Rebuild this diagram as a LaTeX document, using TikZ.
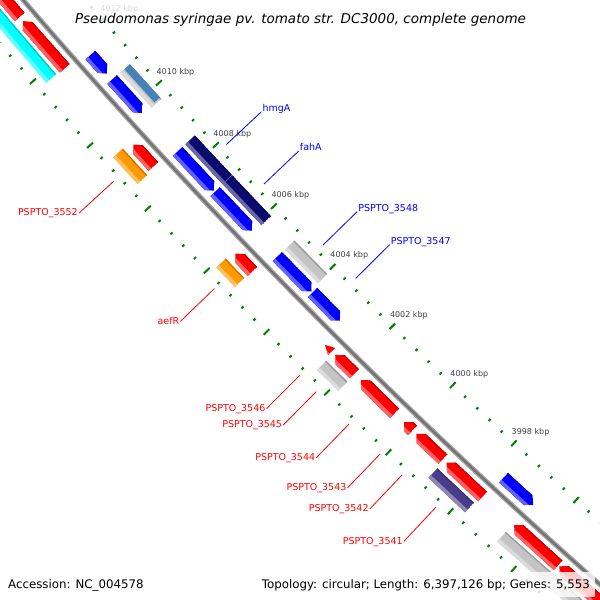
\documentclass[tikz,border=0pt]{standalone}
\usepackage{fontspec}
\setmainfont{DejaVu Sans}
\definecolor{cgred}{RGB}{255,0,0}
\definecolor{cgblue}{RGB}{0,0,255}
\definecolor{cgnavy}{RGB}{12,12,112}
\definecolor{cgsteel}{RGB}{70,130,180}
\definecolor{cgsilver}{RGB}{196,196,196}
\definecolor{cgcyan}{RGB}{0,255,255}
\definecolor{cgslate}{RGB}{72,61,139}
\definecolor{cgorange}{RGB}{255,153,0}
\definecolor{cgtick}{RGB}{0,128,0}
\definecolor{cgtext}{RGB}{64,64,64}
% one feature on the map: #1 upper-left angle, #2 lower-right angle, #3 inner radius,
% #4 colour, #5 0 box / 1 tip up-left / 2 tip down-right / 3 bare head
\newcommand{\gfeat}[5]{%
  \pgfmathsetmacro\fro{#3+13}\pgfmathsetmacro\frm{#3+6.5}%
  \pgfmathsetmacro\frl{#3+9.5}\pgfmathsetmacro\frd{#3+1.5}%
  \pgfmathsetmacro\frx{#3+15}\pgfmathsetmacro\fri{#3-2}%
  \pgfmathsetmacro\fah{#1-0.065}\pgfmathsetmacro\fbh{#2+0.065}%
  \pgfmathsetmacro\fax{#1+0.1}\pgfmathsetmacro\fbx{#2-0.1}%
  \ifcase#5
    \def\fshape{(#1:#3) -- (#2:#3) -- (#2:\fro) -- (#1:\fro) -- cycle}%
  \or
    \def\fshape{(#1:\frm) -- (\fah:#3) -- (#2:#3) -- (#2:\fro) -- (\fah:\fro) -- cycle}%
  \or
    \def\fshape{(#1:#3) -- (\fbh:#3) -- (#2:\frm) -- (\fbh:\fro) -- (#1:\fro) -- cycle}%
  \else
    \pgfmathsetmacro\frp{#3+1.5}\pgfmathsetmacro\frq{#3+11.5}%
    \def\fshape{(#1:\frm) -- (#2:\frp) -- (#2:\frq) -- cycle}%
  \fi
  \begin{scope}
    \clip \fshape;
    \fill[#4] \fshape;
    \fill[#4!62!white] (\fax:\frl) -- (\fbx:\frl) -- (\fbx:\frx) -- (\fax:\frx) -- cycle;
    \fill[#4!80!black] (\fax:\fri) -- (\fbx:\fri) -- (\fbx:\frd) -- (\fax:\frd) -- cycle;
  \end{scope}}

\begin{document}
\begin{tikzpicture}[x=1pt,y=-1pt,
  rulerlbl/.style={anchor=base west,inner sep=0pt,xshift=-2.5pt,yshift=8.8pt,text=cgtext,font=\fontsize{8}{9.6}\selectfont},
  outlbl/.style={anchor=mid east,inner sep=1pt,text=cgred,font=\fontsize{9.5}{11}\selectfont},
  inlbl/.style={anchor=base west,inner sep=1pt,text=cgblue,font=\fontsize{9.5}{11}\selectfont},
  outlead/.style={cgred,line width=.8pt},
  inlead/.style={cgblue,line width=.8pt},
  veil/.style={fill=white,fill opacity=.8,text opacity=1}]
\path[use as bounding box] (0,0) rectangle (600,600);
\begin{scope}
\clip (0,0) rectangle (600,600);
\begin{scope}[shift={(4619,-3960)}]
% ruler ticks, both sides of the backbone
\foreach \k in {-45,...,12}{
  \pgfmathsetmacro\tkang{137.81+0.160572*\k}
  \pgfmathsetmacro\tklen{mod(\k,5)==0 ? 4 : 1.4}
  \pgfmathsetmacro\tka{6020-\tklen}\pgfmathsetmacro\tkb{6020+\tklen}
  \pgfmathsetmacro\tkc{6113-\tklen}\pgfmathsetmacro\tkd{6113+\tklen}
  \draw[cgtick,line width=2pt] (\tkang:\tka)--(\tkang:\tkb) (\tkang:\tkc)--(\tkang:\tkd);
}
\node[rulerlbl] (k4012) at (138.613:6020) {4012 kbp};
\node[rulerlbl] (k4010) at (137.810:6020) {4010 kbp};
\node[rulerlbl] (k4008) at (137.007:6020) {4008 kbp};
\node[rulerlbl] (k4006) at (136.204:6020) {4006 kbp};
\node[rulerlbl] (k4004) at (135.401:6020) {4004 kbp};
\node[rulerlbl] (k4002) at (134.599:6020) {4002 kbp};
\node[rulerlbl] (k4000) at (133.796:6020) {4000 kbp};
\node[rulerlbl] (k3998) at (132.993:6020) {3998 kbp};
% backbone
\draw[line width=5pt,color={rgb,255:red,168;green,168;blue,168}] (140.5:6067) arc[start angle=140.5,end angle=130.5,radius=6067];
\draw[line width=2.4pt,color={rgb,255:red,115;green,115;blue,115}] (140.5:6067) arc[start angle=140.5,end angle=130.5,radius=6067];
% outer lane 1
\gfeat{140.5}{139.15}{6074}{cgred}{0}
\gfeat{139.10}{138.506}{6074}{cgred}{1}
\gfeat{137.54}{137.26}{6074}{cgred}{1}
\gfeat{136.133}{135.900}{6074}{cgred}{1}
\gfeat{134.927}{134.84}{6074}{cgred}{3}
\gfeat{134.793}{134.540}{6074}{cgred}{1}
\gfeat{134.454}{134.007}{6074}{cgred}{1}
\gfeat{133.887}{133.774}{6074}{cgred}{1}
\gfeat{133.727}{133.380}{6074}{cgred}{1}
\gfeat{133.333}{132.866}{6074}{cgred}{1}
\gfeat{132.465}{131.903}{6074}{cgred}{1}
\gfeat{131.889}{130.5}{6074}{cgred}{1}
% outer lane 2
\gfeat{140.5}{138.52}{6091}{cgcyan}{0}
\gfeat{137.58}{137.241}{6091}{cgorange}{0}
\gfeat{136.163}{135.910}{6091}{cgorange}{0}
\gfeat{134.814}{134.535}{6091}{cgsilver}{0}
\gfeat{133.358}{132.886}{6091}{cgslate}{0}
\gfeat{132.479}{130.5}{6091}{cgsilver}{0}
% inner lane 1
\gfeat{138.440}{138.205}{6046}{cgblue}{2}
\gfeat{138.130}{137.701}{6046}{cgblue}{2}
\gfeat{137.210}{136.701}{6046}{cgblue}{2}
\gfeat{136.688}{136.178}{6046}{cgblue}{2}
\gfeat{135.837}{135.375}{6046}{cgblue}{2}
\gfeat{135.361}{134.987}{6046}{cgblue}{2}
\gfeat{132.843}{132.461}{6046}{cgblue}{2}
% inner lane 2
\gfeat{138.126}{137.682}{6029}{cgsilver}{0}
\fill[cgsteel] (138.126:6029)--(137.700:6029)--(137.700:6036.5)--(138.126:6036.5)--cycle;
\gfeat{137.210}{136.692}{6029}{cgnavy}{0}
\gfeat{136.692}{136.155}{6029}{cgnavy}{0}
\draw[cgnavy!55!white,line width=.4pt] (136.692:6029)--(136.692:6042);
\gfeat{135.833}{135.389}{6029}{cgsilver}{0}
% labels inside
\coordinate (ahmgA) at (136.942:6012);
\node[inlbl] (lhmgA) at (136.942:5964) {hmgA};
\draw[inlead] (ahmgA) -- (lhmgA.base west);
\coordinate (afahA) at (136.422:6012);
\node[inlbl] (lfahA) at (136.422:5964) {fahA};
\draw[inlead] (afahA) -- (lfahA.base west);
\coordinate (a3548) at (135.613:6012);
\node[inlbl] (l3548) at (135.613:5964) {PSPTO\_3548};
\draw[inlead] (a3548) -- (l3548.base west);
\coordinate (a3547) at (135.168:6012);
\node[inlbl] (l3547) at (135.168:5964) {PSPTO\_3547};
\draw[inlead] (a3547) -- (l3547.base west);
% labels outside
\coordinate (a3552) at (137.412:6120);
\node[outlbl] (l3552) at (137.412:6167) {PSPTO\_3552};
\draw[outlead] (a3552) -- (l3552.mid east);
\coordinate (aaefR) at (136.033:6120);
\node[outlbl] (laefR) at (136.033:6167) {aefR};
\draw[outlead] (aaefR) -- (laefR.mid east);
\coordinate (a3546) at (134.894:6120);
\node[outlbl] (l3546) at (134.894:6167) {PSPTO\_3546};
\draw[outlead] (a3546) -- (l3546.mid east);
\coordinate (a3545) at (134.676:6120);
\node[outlbl] (l3545) at (134.676:6167) {PSPTO\_3545};
\draw[outlead] (a3545) -- (l3545.mid east);
\coordinate (a3544) at (134.245:6120);
\node[outlbl] (l3544) at (134.245:6167) {PSPTO\_3544};
\draw[outlead] (a3544) -- (l3544.mid east);
\coordinate (a3543) at (133.841:6120);
\node[outlbl] (l3543) at (133.841:6167) {PSPTO\_3543};
\draw[outlead] (a3543) -- (l3543.mid east);
\coordinate (a3542) at (133.556:6120);
\node[outlbl] (l3542) at (133.556:6167) {PSPTO\_3542};
\draw[outlead] (a3542) -- (l3542.mid east);
\coordinate (a3541) at (133.119:6120);
\node[outlbl] (l3541) at (133.119:6167) {PSPTO\_3541};
\draw[outlead] (a3541) -- (l3541.mid east);
\end{scope}
\node[veil,anchor=base,inner xsep=4pt,inner ysep=1pt,text height=22pt,text depth=6pt,font=\itshape\fontsize{13.5}{16}\selectfont] (title) at (300.5,23.5) {Pseudomonas syringae pv. tomato str. DC3000, complete genome};
\node[veil,anchor=base west,inner xsep=5pt,inner ysep=7pt,font=\fontsize{11.8}{14}\selectfont] (accession) at (3,588) {Accession: NC\_004578};
\node[veil,anchor=base east,inner xsep=5pt,inner ysep=7pt,font=\fontsize{11.8}{14}\selectfont] (topology) at (595,588) {Topology: circular; Length: 6,397,126 bp; Genes: 5,553};
\end{scope}
\end{tikzpicture}
\end{document}
